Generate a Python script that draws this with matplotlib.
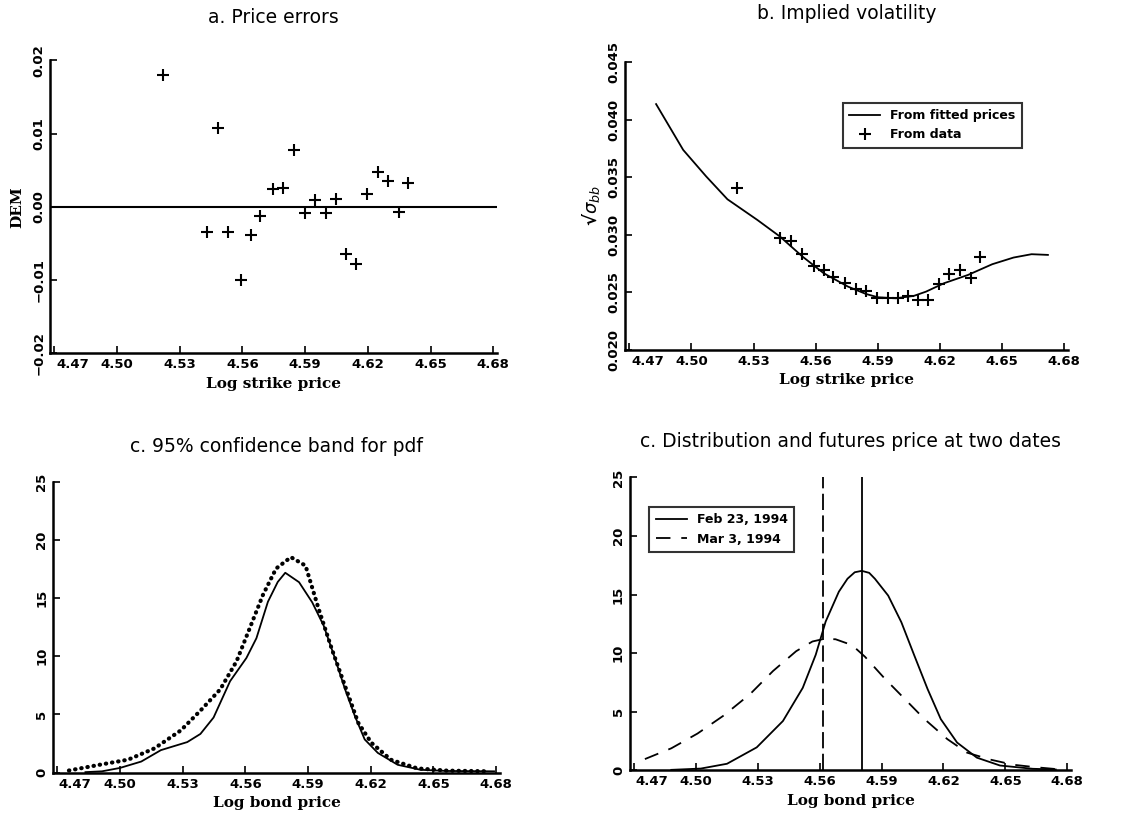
import matplotlib
matplotlib.use("Agg")
import matplotlib.pyplot as plt
import matplotlib.transforms as mtransforms

# strikes shared by panels a and b (log strike price)
strikes = [4.5218, 4.5428, 4.5482, 4.5533, 4.5591, 4.5639, 4.5686, 4.5744, 4.5796,
           4.5846, 4.5897, 4.5948, 4.5998, 4.6046, 4.6097, 4.6145, 4.6196, 4.6247,
           4.6297, 4.6349, 4.6393]

# a. price errors (DEM)
price_err = [0.0180, -0.0035, 0.0107, -0.0034, -0.0100, -0.0038, -0.0012, 0.0024,
             0.0026, 0.0078, -0.0009, 0.0009, -0.0009, 0.0010, -0.0065, -0.0078,
             0.0017, 0.0048, 0.0035, -0.0007, 0.0032]

# b. implied volatility
iv_data = [0.0341, 0.0297, 0.0295, 0.0283, 0.0273, 0.0269, 0.0263, 0.0258, 0.0253,
           0.0251, 0.0245, 0.0245, 0.0245, 0.0247, 0.0243, 0.0243, 0.0257, 0.0266,
           0.0269, 0.0262, 0.0281]
fit_x = [4.4829, 4.4960, 4.5071, 4.5174, 4.5319, 4.5428, 4.5537, 4.5639, 4.5756,
         4.5843, 4.5901, 4.5988, 4.6075, 4.6134, 4.6221, 4.6337, 4.6454, 4.6557,
         4.6644, 4.6723]
fit_iv = [0.04135, 0.03737, 0.03507, 0.03308, 0.03128, 0.02984, 0.02810, 0.02666,
          0.02550, 0.02486, 0.02457, 0.02448, 0.02469, 0.02506, 0.02579, 0.02651,
          0.02744, 0.02802, 0.02831, 0.02825]

# c. pdf and upper band
pdf_x = [4.4835, 4.4914, 4.5000, 4.5102, 4.5196, 4.5322, 4.5385, 4.5448, 4.5527,
         4.5605, 4.5653, 4.5708, 4.5755, 4.5791, 4.5857, 4.5920, 4.5975, 4.6030,
         4.6077, 4.6124, 4.6171, 4.6234, 4.6329, 4.6439, 4.6564, 4.6790]
pdf_y = [0.05, 0.12, 0.41, 0.96, 1.94, 2.63, 3.33, 4.74, 7.86, 9.85, 11.55, 14.68,
         16.38, 17.17, 16.36, 14.63, 12.62, 9.75, 7.17, 4.87, 2.86, 1.70, 0.68,
         0.25, 0.15, 0.12]
band_x = [4.4756, 4.4914, 4.5039, 4.5165, 4.5291, 4.5385, 4.5480, 4.5558, 4.5621,
          4.5684, 4.5747, 4.5818, 4.5888, 4.5951, 4.6014, 4.6077, 4.6140, 4.6203,
          4.6297, 4.6423, 4.6564, 4.6769]
band_y = [0.19, 0.72, 1.12, 2.09, 3.63, 5.33, 7.16, 9.57, 12.41, 15.26, 17.53, 18.51,
          17.78, 14.05, 10.61, 7.45, 4.29, 2.57, 1.11, 0.37, 0.18, 0.12]

# d. distributions at two dates
feb_x = [4.4881, 4.5024, 4.5151, 4.5295, 4.5422, 4.5518, 4.5581, 4.5629, 4.5693,
         4.5735, 4.5770, 4.5804, 4.5840, 4.5868, 4.5932, 4.5996, 4.6059, 4.6123,
         4.6187, 4.6266, 4.6362, 4.6474, 4.6633, 4.6744]
feb_y = [0.03, 0.14, 0.55, 1.95, 4.20, 7.03, 9.86, 12.69, 15.24, 16.35, 16.90, 17.02,
         16.85, 16.34, 14.91, 12.63, 9.78, 6.93, 4.36, 2.36, 1.07, 0.40, 0.12, 0.06]
mar_x = [4.4753, 4.4881, 4.5008, 4.5135, 4.5263, 4.5374, 4.5486, 4.5565, 4.5621,
         4.5677, 4.5757, 4.5820, 4.5916, 4.6012, 4.6107, 4.6219, 4.6314, 4.6426,
         4.6537, 4.6649, 4.6744]
mar_y = [0.95, 1.87, 3.13, 4.67, 6.50, 8.47, 10.16, 10.99, 11.21, 11.18, 10.68, 9.68,
         7.81, 6.09, 4.38, 2.65, 1.50, 0.91, 0.47, 0.25, 0.10]
futures = [4.5806, 4.5615]   # Feb 23, Mar 3

xticks = [4.47, 4.50, 4.53, 4.56, 4.59, 4.62, 4.65, 4.68]
xlabels = ["4.47", "4.50", "4.53", "4.56", "4.59", "4.62", "4.65", "4.68"]

tick_font = dict(family="DejaVu Sans", weight="bold", size=9.5)
lab_font = dict(family="DejaVu Serif", weight="bold", size=11)
title_font = dict(family="DejaVu Sans", size=13.5)


def style(ax, yticks, ylabels):
    for s in ["top", "right"]:
        ax.spines[s].set_visible(False)
    for s in ["left", "bottom"]:
        ax.spines[s].set_linewidth(1.8)
    ax.set_xlim(4.468, 4.682)
    ax.set_xticks(xticks)
    ax.set_xticklabels(xlabels, **tick_font)
    ax.set_yticks(yticks)
    ax.set_yticklabels(ylabels, rotation=90, va="center", **tick_font)
    ax.tick_params(direction="in", length=5, width=1.2)
    # first x label sits right of the y axis, as in the print
    lab = ax.get_xticklabels()[0]
    lab.set_transform(lab.get_transform() +
                      mtransforms.ScaledTranslation(13 / 72, 0, ax.figure.dpi_scale_trans))


fig = plt.figure(figsize=(11.41, 8.39), dpi=100)

# a
ax = fig.add_axes([0.044, 0.579, 0.392, 0.349])
ax.axhline(0, color="black", lw=1.5)
ax.plot(strikes, price_err, "k+", ms=8, mew=1.5)
ax.set_ylim(-0.02, 0.02)
style(ax, [-0.02, -0.01, 0.0, 0.01, 0.02], ["\u22120.02", "\u22120.01", "0.00", "0.01", "0.02"])
ax.set_xlabel("Log strike price", **lab_font)
ax.set_ylabel("DEM", labelpad=6, **lab_font)
ax.set_title("a. Price errors", pad=27, **title_font)

# b
ax = fig.add_axes([0.548, 0.583, 0.388, 0.343])
ax.plot(fit_x, fit_iv, "k-", lw=1.3, label="From fitted prices")
ax.plot(strikes, iv_data, "k+", ms=8, mew=1.5, label="From data")
ax.set_ylim(0.020, 0.045)
style(ax, [0.020, 0.025, 0.030, 0.035, 0.040, 0.045],
      ["0.020", "0.025", "0.030", "0.035", "0.040", "0.045"])
ax.set_xlabel("Log strike price", **lab_font)
ax.set_ylabel("\u221a" + r"$\sigma_{bb}$", fontsize=13, fontweight="bold")
ax.set_title("b. Implied volatility", pad=31, **title_font)
leg = ax.legend(loc="upper right", bbox_to_anchor=(0.91, 0.88), fancybox=False,
                edgecolor="black", prop=dict(family="DejaVu Sans", weight="bold", size=9),
                handlelength=2.5, borderpad=0.5)
leg.get_frame().set_linewidth(1.5)

# c
ax = fig.add_axes([0.0465, 0.079, 0.392, 0.347])
ax.plot(pdf_x, pdf_y, "k-", lw=1.3)
ax.plot(band_x, band_y, color="black", lw=3, linestyle=(0, (0.1, 1.4)),
        dash_capstyle="round")
ax.set_ylim(0, 25)
style(ax, [0, 5, 10, 15, 20, 25], ["0", "5", "10", "15", "20", "25"])
ax.set_xlabel("Log bond price", **lab_font)
ax.set_title("c. 95% confidence band for pdf", pad=21, **title_font)

# d
ax = fig.add_axes([0.552, 0.082, 0.387, 0.349])
ax.plot(feb_x, feb_y, "k-", lw=1.3, label="Feb 23, 1994")
ax.plot(mar_x, mar_y, color="black", lw=1.3, dashes=(8, 6), label="Mar 3, 1994")
ax.axvline(futures[0], color="black", lw=1.3)
ax.axvline(futures[1], color="black", lw=1.3, dashes=(9, 3))
ax.set_ylim(0, 25)
style(ax, [0, 5, 10, 15, 20, 25], ["0", "5", "10", "15", "20", "25"])
ax.set_xlabel("Log bond price", **lab_font)
ax.set_title("c. Distribution and futures price at two dates", pad=22, **title_font)
leg = ax.legend(loc="upper left", bbox_to_anchor=(0.03, 0.92), fancybox=False,
                edgecolor="black", prop=dict(family="DejaVu Sans", weight="bold", size=9),
                handlelength=2.5, borderpad=0.5)
leg.get_frame().set_linewidth(1.5)

fig.savefig("out.png", dpi=100)
